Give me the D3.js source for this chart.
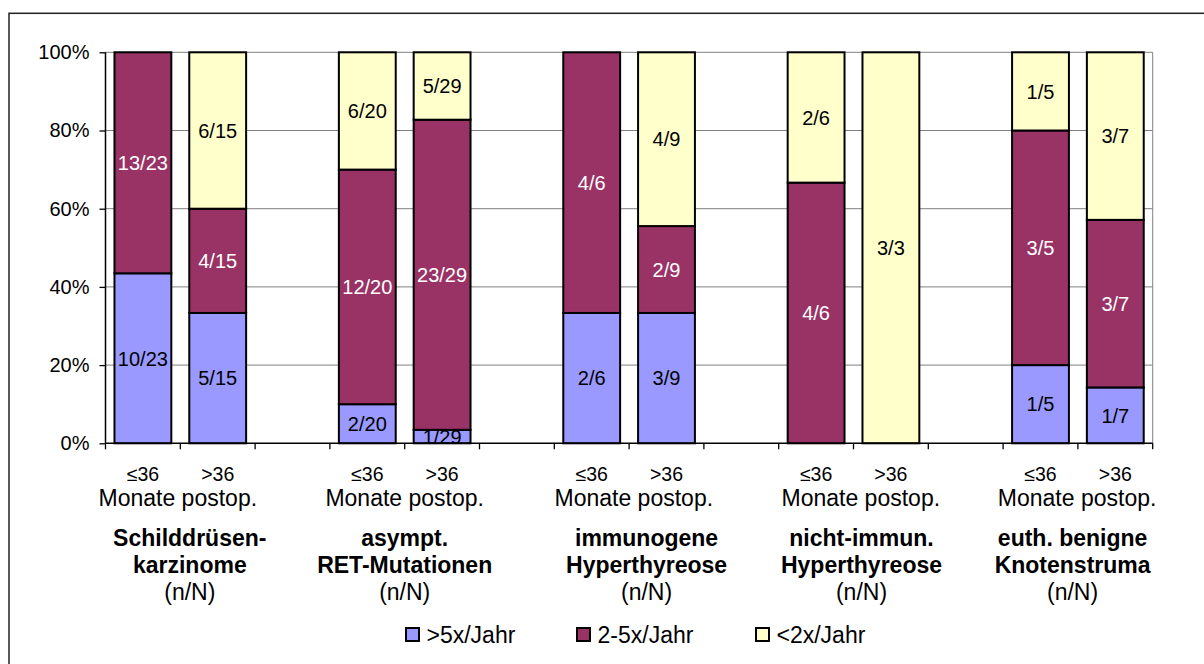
<!DOCTYPE html>
<html>
<head>
<meta charset="utf-8">
<script src="https://cdn.jsdelivr.net/npm/d3@7"></script>
<style>
  html, body { margin: 0; padding: 0; background: #fff; }
  svg { display: block; font-family: "Liberation Sans", Arial, sans-serif; }
</style>
</head>
<body>
<svg id="chart" width="1204" height="664"></svg>
<script>
// ---- data ----
const slotLabels = ["≤36", ">36", "", "≤36", ">36", "", "≤36", ">36", "", "≤36", ">36", "", "≤36", ">36"];
const groupNames = [
  ["Schilddrüsen-", "karzinome"],
  ["asympt.", "RET-Mutationen"],
  ["immunogene", "Hyperthyreose"],
  ["nicht-immun.", "Hyperthyreose"],
  ["euth. benigne", "Knotenstruma"]
];
const groupFirstSlot = [0, 3, 6, 9, 12];
const totals    = [23, 15, 0, 20, 29, 0, 6, 9, 0, 6, 3, 0, 5, 7];
const countHigh = [10,  5, 0,  2,  1, 0, 2, 3, 0, 0, 0, 0, 1, 1]; // >5x/Jahr
const countMid  = [13,  4, 0, 12, 23, 0, 4, 2, 0, 4, 0, 0, 3, 3]; // 2-5x/Jahr
const countLow  = [ 0,  6, 0,  6,  5, 0, 0, 4, 0, 2, 3, 0, 1, 3]; // <2x/Jahr
const seriesNames = [">5x/Jahr", "2-5x/Jahr", "<2x/Jahr"];
const seriesColors = ["#9999FF", "#993366", "#FFFFCC"];
const seriesTextColors = ["#000", "#fff", "#000"];
const yTicks = [0, 20, 40, 60, 80, 100];
const subLabel = "Monate postop.";
const nLabel = "(n/N)";

// ---- layout ----
const svg = d3.select("#chart");
const plot = { left: 105.5, right: 1152.7, top: 52.3, bottom: 443.3 };
// manual nudges of the text boxes (as in the original)
const subNudge = [-2.5, 0, 4.7, 7.3, -0.8];
const boldNudge = [9.5, 0, 17.5, 8, -5.3];

// outer frame
svg.append("rect").attr("x", 9).attr("y", 13.3).attr("width", 1230).attr("height", 700)
  .attr("fill", "none").attr("stroke", "#222").attr("stroke-width", 1.5);

const slots = d3.range(slotLabels.length);
const pInner = 0.24;
const x = d3.scaleBand().domain(slots).range([plot.left, plot.right])
  .paddingInner(pInner).paddingOuter(pInner / 2);
const y = d3.scaleLinear().domain([0, 100]).range([plot.bottom, plot.top]);
const step = x.step();
const slotStart = i => x(i) - step * pInner / 2;

// gridlines
svg.append("g").selectAll("line").data(yTicks.filter(d => d > 0)).join("line")
  .attr("x1", plot.left).attr("x2", plot.right)
  .attr("y1", d => y(d)).attr("y2", d => y(d))
  .attr("stroke", "#808080").attr("stroke-width", 1);
// right border of plot area
svg.append("line").attr("x1", plot.right).attr("x2", plot.right)
  .attr("y1", plot.top).attr("y2", plot.bottom)
  .attr("stroke", "#808080").attr("stroke-width", 1);

// stacked data
const rows = slots.map(i => {
  const t = totals[i];
  return {
    slot: i,
    c: [countHigh[i], countMid[i], countLow[i]],
    t: t,
    v0: t ? countHigh[i] / t * 100 : 0,
    v1: t ? countMid[i] / t * 100 : 0,
    v2: t ? countLow[i] / t * 100 : 0
  };
});
const stack = d3.stack().keys(["v0", "v1", "v2"]);
const stacked = stack(rows);

const barsG = svg.append("g");
stacked.forEach((layer, k) => {
  const segs = layer.filter(s => s.data.t > 0 && s.data.c[k] > 0);
  barsG.selectAll(null).data(segs).join("rect")
    .attr("x", s => x(s.data.slot))
    .attr("width", x.bandwidth())
    .attr("y", s => y(s[1]))
    .attr("height", s => y(s[0]) - y(s[1]))
    .attr("fill", seriesColors[k])
    .attr("stroke", "#000").attr("stroke-width", 2);
});
stacked.forEach((layer, k) => {
  const segs = layer.filter(s => s.data.t > 0 && s.data.c[k] > 0);
  barsG.selectAll(null).data(segs).join("text")
    .attr("x", s => x(s.data.slot) + x.bandwidth() / 2)
    .attr("y", s => (y(s[0]) + y(s[1])) / 2)
    .attr("dy", "0.36em")
    .attr("text-anchor", "middle")
    .attr("font-size", 20)
    .attr("fill", seriesTextColors[k])
    .text(s => s.data.c[k] + "/" + s.data.t);
});

// y axis
const yAxis = d3.axisLeft(y).tickValues(yTicks).tickFormat(d => d + "%").tickSize(6).tickPadding(10);
const yg = svg.append("g").attr("transform", `translate(${plot.left},0)`).call(yAxis);
yg.select(".domain").attr("stroke", "#000").attr("stroke-width", 1.5).attr("d", `M0,${plot.bottom}V${plot.top}`);
yg.selectAll(".tick line").attr("stroke", "#000").attr("stroke-width", 1.3);
yg.selectAll(".tick text").attr("font-size", 20).attr("font-family", "Liberation Sans, Arial, sans-serif").attr("fill", "#000");

// x axis line + ticks at slot boundaries
svg.append("line").attr("x1", plot.left).attr("x2", plot.right)
  .attr("y1", plot.bottom).attr("y2", plot.bottom)
  .attr("stroke", "#000").attr("stroke-width", 1.5);
svg.append("g").selectAll("line").data(d3.range(slotLabels.length + 1)).join("line")
  .attr("x1", i => plot.left + i * step).attr("x2", i => plot.left + i * step)
  .attr("y1", plot.bottom).attr("y2", plot.bottom + 6)
  .attr("stroke", "#000").attr("stroke-width", 1.3);

// slot labels
svg.append("g").selectAll("text").data(slots.filter(i => slotLabels[i])).join("text")
  .attr("x", i => x(i) + x.bandwidth() / 2)
  .attr("y", 481)
  .attr("text-anchor", "middle").attr("font-size", 19.5)
  .text(i => slotLabels[i]);

// group labels
groupNames.forEach((g, gi) => {
  const cx = slotStart(groupFirstSlot[gi]) + step;
  svg.append("text").attr("x", cx + subNudge[gi]).attr("y", 506)
    .attr("text-anchor", "middle").attr("font-size", 23).text(subLabel);
  const bx = cx + boldNudge[gi];
  svg.append("text").attr("x", bx).attr("y", 546)
    .attr("text-anchor", "middle").attr("font-size", 23).attr("font-weight", "bold").text(g[0]);
  svg.append("text").attr("x", bx).attr("y", 573)
    .attr("text-anchor", "middle").attr("font-size", 23).attr("font-weight", "bold").text(g[1]);
  svg.append("text").attr("x", bx).attr("y", 599.5)
    .attr("text-anchor", "middle").attr("font-size", 23).text(nLabel);
});

// legend
const legendX = [405, 576, 755];
const lg = svg.append("g");
seriesNames.forEach((name, k) => {
  lg.append("rect").attr("x", legendX[k] + 1).attr("y", 628).attr("width", 13).attr("height", 13)
    .attr("fill", seriesColors[k]).attr("stroke", "#000").attr("stroke-width", 2);
  lg.append("text").attr("x", legendX[k] + 21.5).attr("y", 643)
    .attr("font-size", 23).text(name);
});
</script>
</body>
</html>
